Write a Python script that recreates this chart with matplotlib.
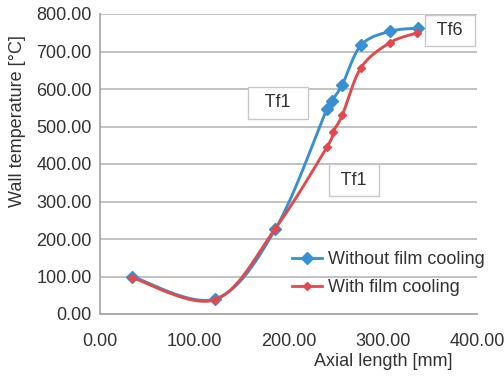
import numpy as np
import matplotlib
matplotlib.use("Agg")
import matplotlib.pyplot as plt
from matplotlib.lines import Line2D

# Data
x_without = [34, 122, 186, 241, 246, 257, 277, 308, 337]
t_without = [100, 40, 226, 548, 569, 611, 717, 754, 762]
x_with = [34, 122, 186, 241, 247, 257, 277, 308, 336]
t_with = [97, 38, 228, 446, 485, 530, 657, 724, 749]
series_names = ["Without film cooling", "With film cooling"]
x_ticks = [0, 100, 200, 300, 400]
y_ticks = [0, 100, 200, 300, 400, 500, 600, 700, 800]

BLUE = "#3a8fd2"
RED = "#e04a4d"
GRID = "#b8b8b8"
TXT = "#333333"

plt.rcParams['font.family'] = ['Liberation Sans', 'DejaVu Sans']

fig = plt.figure(figsize=(5.04, 3.76), dpi=100)
ax = fig.add_axes([100/504, 1-314/376, 377/504, 300/376])
ax.set_xlim(0, 400)
ax.set_ylim(0, 800)

def smooth(xs, ys, sx=377/400, sy=300/800, n=30):
    P = np.column_stack([np.array(xs, float)*sx, np.array(ys, float)*sy])
    m = len(P)
    out = []
    for i in range(m-1):
        p0 = P[i-1] if i > 0 else P[i]
        p1 = P[i]
        p2 = P[i+1]
        p3 = P[i+2] if i+2 < m else P[i+1]
        c1 = p1 + (p2 - p0)/6
        c2 = p2 - (p3 - p1)/6
        t = np.linspace(0, 1, n)[:, None]
        seg = (1-t)**3*p1 + 3*(1-t)**2*t*c1 + 3*(1-t)*t**2*c2 + t**3*p2
        out.append(seg if i == 0 else seg[1:])
    out = np.vstack(out)
    return out[:, 0]/sx, out[:, 1]/sy

bx, by = smooth(x_without, t_without)
rx, ry = smooth(x_with, t_with)
ax.plot(bx, by, color=BLUE, lw=2.1, zorder=3, solid_capstyle='round')
ax.plot(x_without, t_without, ls='none', marker='D', ms=6, color=BLUE, zorder=4)
ax.plot(rx, ry, color=RED, lw=2.1, zorder=5, solid_capstyle='round')
ax.plot(x_with, t_with, ls='none', marker='D', ms=4, color=RED, zorder=6)

ax.set_xticks(x_ticks)
ax.set_yticks(y_ticks)
ax.set_xticklabels([f"{v:.2f}" for v in x_ticks])
ax.set_yticklabels([f"{v:.2f}" for v in y_ticks])
ax.tick_params(axis='both', length=0, labelsize=13, labelcolor=TXT)
ax.tick_params(axis='x', pad=14)
ax.tick_params(axis='y', pad=6)
ax.grid(axis='y', color=GRID, lw=1.2)
ax.set_axisbelow(True)
for s in ['top', 'right']:
    ax.spines[s].set_visible(False)
for s in ['left', 'bottom']:
    ax.spines[s].set_color("#a8a8a8")
    ax.spines[s].set_linewidth(1.3)

handles = [Line2D([0], [0], color=BLUE, lw=2, marker='D', ms=6),
           Line2D([0], [0], color=RED, lw=2, marker='D', ms=4)]
leg = ax.legend(handles, series_names, loc='upper left', bbox_to_anchor=((292-100)/377, 1-(251-14)/300),
                frameon=False, fontsize=13, handlelength=1.65, handletextpad=0.35,
                labelspacing=0.6, borderaxespad=0, borderpad=0)
for t in leg.get_texts():
    t.set_color(TXT)

bbox = dict(boxstyle='square,pad=0.4', fc='white', ec='#c8c8c8', lw=1.0)
ax.text(189, 563, "  Tf1  ", ha='center', va='center', fontsize=13, color=TXT, bbox=bbox, zorder=2)
ax.text(269.5, 357, " Tf1 ", ha='center', va='center', fontsize=13, color=TXT, bbox=bbox, zorder=2)
ax.text(371, 756, " Tf6 ", ha='center', va='center', fontsize=13, color=TXT, bbox=bbox, zorder=7)

fig.text(18/504, 1-121/376, "Wall temperature [°C]", rotation=90, ha='center', va='center',
         fontsize=13, color=TXT)
fig.text(383/504, 1-362/376, "Axial length [mm]", ha='center', va='center', fontsize=13, color=TXT)

fig.savefig("out.png", dpi=100, facecolor='white')
